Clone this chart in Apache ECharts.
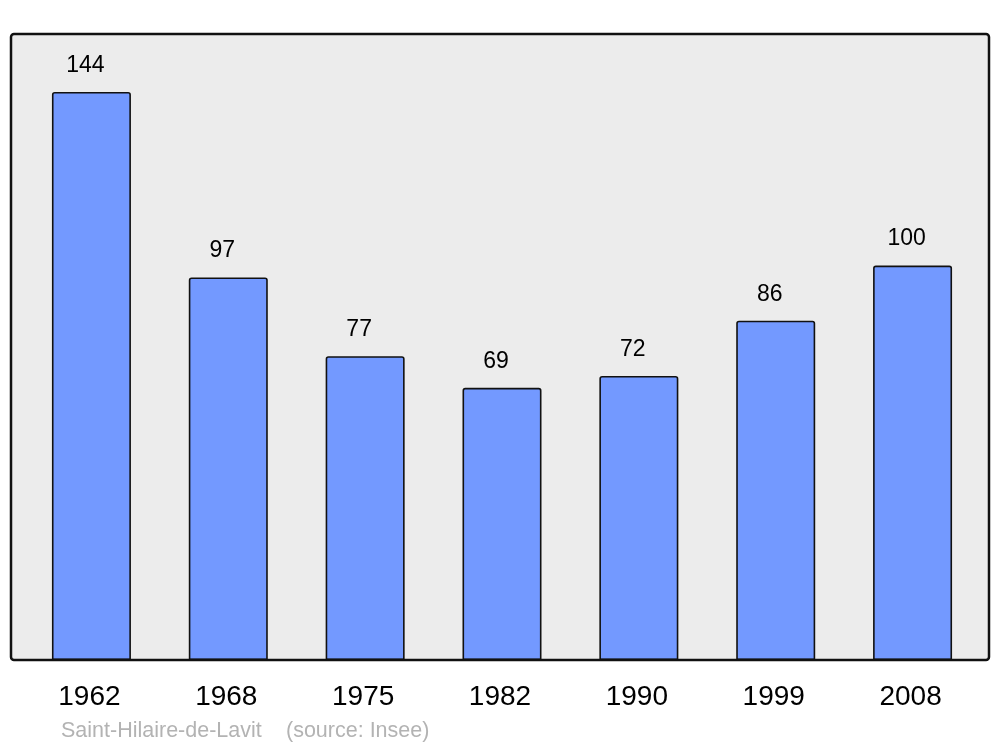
<!DOCTYPE html>
<html>
<head>
<meta charset="utf-8">
<script src="https://cdn.jsdelivr.net/npm/echarts@6/dist/echarts.min.js"></script>
<style>
  * { margin: 0; padding: 0; }
  body { background: #fff; }
  #chart { width: 1000px; height: 747px; }
</style>
</head>
<body>
<div id="chart"></div>
<script>
// années du recensement
const years = ['1962', '1968', '1975', '1982', '1990', '1999', '2008']
// population
const population = [144, 97, 77, 69, 72, 86, 100]
const commune = 'Saint-Hilaire-de-Lavit'
const source = '(source: Insee)'

const chart = echarts.init(document.getElementById('chart'))
chart.setOption({
  animation: false,
  textStyle: { fontFamily: '"Liberation Sans", Arial, sans-serif' },
  grid: { left: 23, right: 19, top: 34, bottom: 87 },
  graphic: [
    {
      type: 'rect', z: -10, silent: true,
      shape: { x: 11, y: 34, width: 978, height: 626, r: 3 },
      style: { fill: '#ececec', stroke: null }
    },
    {
      type: 'rect', z: 100, silent: true,
      shape: { x: 11, y: 34, width: 978, height: 626, r: 3 },
      style: { fill: null, stroke: '#111', lineWidth: 2.5 }
    },
    {
      type: 'text', left: 61, top: 720,
      style: { text: commune, fill: '#b3b3b3', font: '21.5px "Liberation Sans", Arial, sans-serif' }
    },
    {
      type: 'text', left: 286, top: 720,
      style: { text: source, fill: '#b3b3b3', font: '21.5px "Liberation Sans", Arial, sans-serif' }
    }
  ],
  xAxis: {
    type: 'category',
    data: years,
    axisLine: { show: false },
    axisTick: { show: false },
    axisLabel: { color: '#000', fontSize: 28, margin: 23, padding: [0, 4, 0, 0] }
  },
  yAxis: {
    type: 'value',
    min: 0,
    max: 158.7,
    show: false,
    splitLine: { show: false }
  },
  series: [{
    type: 'bar',
    data: population,
    barWidth: 79,
    itemStyle: {
      color: '#7399ff',
      borderColor: '#111',
      borderWidth: 1.6,
      borderRadius: [2, 2, 0, 0]
    },
    label: {
      show: true,
      position: 'top',
      distance: 15,
      offset: [-6, 0],
      color: '#000',
      fontSize: 23
    }
  }]
})
</script>
</body>
</html>
